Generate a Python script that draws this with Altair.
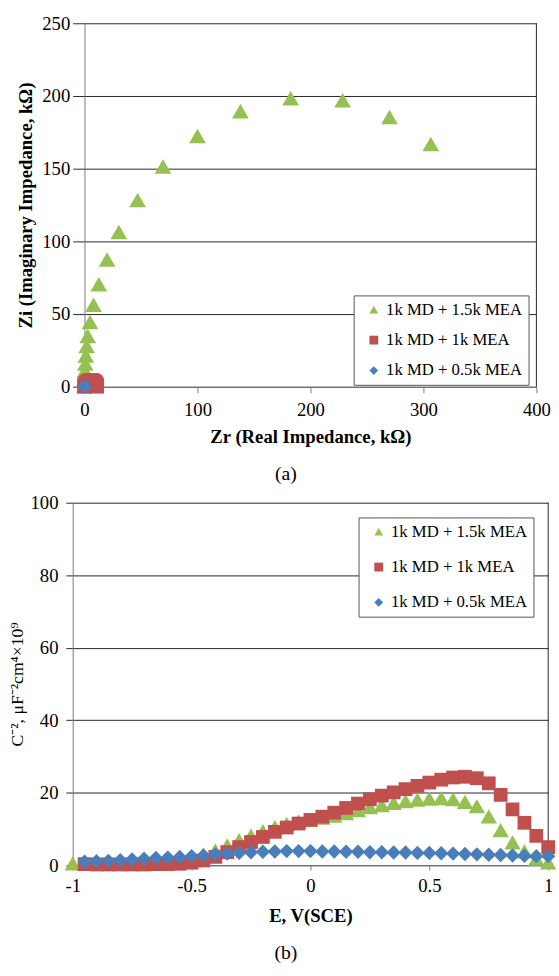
import altair as alt
import pandas as pd

FONT = "Liberation Serif"
S_HI, S_MID, S_LO = "1k MD + 1.5k MEA", "1k MD + 1k MEA", "1k MD + 0.5k MEA"
SERIES = [S_HI, S_MID, S_LO]
COLORS = ["#95C152", "#C0504D", "#4A7EBB"]
SHAPES = ["triangle-up", "square", "diamond"]

# ---------------- (a) Nyquist plot ----------------
a_hi_zr = [0.1, 0.2, 0.4, 0.7, 1.2, 1.9, 2.9, 4.9, 8.0, 12.7, 20.0, 30.4, 47.0, 69.5,
           100.0, 138.0, 182.5, 228.5, 270.0, 306.5]
a_hi_zi = [1.0, 5.5, 11.0, 16.0, 21.5, 28.0, 35.0, 44.5, 56.5, 70.5, 87.5, 106.5, 128.5,
           151.5, 172.5, 189.5, 198.5, 197.0, 185.5, 167.0]
a_mid_zr = [0.1, 0.3, 0.7, 1.3, 2.0, 3.0, 4.2, 5.4, 6.6, 7.8, 8.8, 9.6, 10.2, 10.6, 10.8]
a_mid_zi = [0.3, 0.8, 1.4, 2.0, 2.6, 3.3, 3.9, 4.2, 4.2, 3.9, 3.3, 2.6, 1.9, 1.1, 0.4]
a_lo_zr = [0.1, 0.2, 0.3]
a_lo_zi = [0.1, 0.3, 0.2]
a_x_ticks = [0, 100, 200, 300, 400]
a_y_ticks = [0, 50, 100, 150, 200, 250]

# ---------------- (b) Mott-Schottky plot ----------------
b_e_hi = [-1.0, -0.95, -0.9, -0.85, -0.8, -0.75, -0.7, -0.65, -0.6, -0.55, -0.5, -0.45,
          -0.4, -0.35, -0.3, -0.25, -0.2, -0.15, -0.1, -0.05, 0.0, 0.05, 0.1, 0.15, 0.2,
          0.25, 0.3, 0.35, 0.4, 0.45, 0.5, 0.55, 0.6, 0.65, 0.7, 0.75, 0.8, 0.85, 0.9,
          0.95, 1.0]
b_c_hi = [0.5, 0.6, 0.6, 0.7, 0.7, 0.8, 0.9, 1.0, 1.2, 1.5, 2.0, 2.9, 4.1, 5.5, 6.9,
          8.2, 9.4, 10.5, 11.4, 12.1, 12.6, 13.1, 13.7, 14.4, 15.2, 16.0, 16.6, 17.2,
          17.7, 18.1, 18.4, 18.5, 18.2, 17.5, 16.3, 13.5, 9.7, 6.3, 3.8, 1.8, 0.8]
b_e_mid = b_e_hi[1:]
b_c_mid = [0.3, 0.2, 0.2, 0.2, 0.2, 0.2, 0.3, 0.3, 0.4, 0.7, 1.3, 2.3, 3.6, 5.0, 6.4,
           7.8, 9.2, 10.4, 11.5, 12.5, 13.4, 14.5, 15.8, 17.0, 18.2, 19.2, 20.1, 21.0,
           21.9, 22.8, 23.6, 24.2, 24.4, 24.0, 22.6, 19.4, 15.4, 11.7, 8.1, 5.0]
b_e_lo = b_e_hi[1:]
b_c_lo = [1.0, 1.1, 1.2, 1.4, 1.6, 1.8, 2.0, 2.1, 2.3, 2.5, 2.7, 3.0, 3.2, 3.4, 3.6,
          3.7, 3.8, 3.9, 3.9, 3.9, 3.8, 3.8, 3.7, 3.7, 3.6, 3.6, 3.5, 3.5, 3.4, 3.4,
          3.3, 3.2, 3.1, 3.0, 2.9, 2.8, 2.7, 2.6, 2.5, 2.5]
b_x_ticks = [-1, -0.5, 0, 0.5, 1]
b_y_ticks = [0, 20, 40, 60, 80, 100]

GRID = "#262626"
AXISC = "#7a7a7a"


def frame(names, xs, ys, xcol, ycol):
    rows = []
    for n, xv, yv in zip(names, xs, ys):
        for a, b in zip(xv, yv):
            rows.append({"series": n, xcol: a, ycol: b})
    return pd.DataFrame(rows)


def make_legend(lx, ly, row_pad):
    return alt.Legend(title=None, orient="none", legendX=lx, legendY=ly,
                      labelFont=FONT, labelFontSize=17, labelColor="black",
                      symbolSize=80, symbolStrokeWidth=0, symbolOffset=6,
                      labelOffset=4, rowPadding=row_pad, padding=6,
                      strokeColor="#555555", fillColor="white")


def panel(df, xenc, yenc, legend, sizes, border_df, bx, by, by2, w, h, label, dx):
    color = alt.Color("series:N", scale=alt.Scale(domain=SERIES, range=COLORS), legend=legend)
    shape = alt.Shape("series:N", scale=alt.Scale(domain=SERIES, range=SHAPES), legend=legend)
    base = alt.Chart(df).encode(x=xenc, y=yenc, color=color, shape=shape)
    layers = [base.transform_filter(alt.datum.series == s)
              .mark_point(filled=True, opacity=1, size=sz, strokeWidth=0)
              for s, sz in zip(SERIES, sizes)]
    border = alt.Chart(border_df).mark_rule(color=GRID, strokeWidth=1).encode(
        x=f"{bx}:Q", y=f"{by}:Q", y2=f"{by2}:Q")
    return alt.layer(border, *layers).properties(
        width=w, height=h,
        title=alt.TitleParams(label, orient="bottom", font=FONT, fontSize=20,
                              fontWeight="normal", color="black", frame="group",
                              dx=dx, offset=18))


df_a = frame(SERIES, [a_hi_zr, a_mid_zr, a_lo_zr], [a_hi_zi, a_mid_zi, a_lo_zi], "zr", "zi")
top = panel(
    df_a,
    alt.X("zr:Q", scale=alt.Scale(domain=[-10.43, 400], nice=False, zero=False),
          axis=alt.Axis(values=a_x_ticks, title="Zr (Real Impedance, kΩ)", grid=False,
                        tickSize=6, labelPadding=8, titlePadding=9, titleX=242,
                        titleFontWeight="bold")),
    alt.Y("zi:Q", scale=alt.Scale(domain=[0, 250], nice=False),
          axis=alt.Axis(values=a_y_ticks, title="Zi (Imaginary Impedance, kΩ)", grid=True,
                        offset=-12, ticks=False, labelPadding=15, titlePadding=6,
                        titleFontWeight="bold")),
    make_legend(286, 277, 13), [290, 225, 225],
    pd.DataFrame({"zr": [400], "zi": [0], "zi2": [250]}), "zr", "zi", "zi2",
    472, 370, "(a)", -19)

df_b = frame(SERIES, [b_e_hi, b_e_mid, b_e_lo], [b_c_hi, b_c_mid, b_c_lo], "e", "c")
bottom = panel(
    df_b,
    alt.X("e:Q", scale=alt.Scale(domain=[-1, 1], nice=False),
          axis=alt.Axis(values=b_x_ticks, title="E, V(SCE)", grid=False,
                        labelExpr="'' + datum.value",
                        tickSize=5, labelPadding=7, titlePadding=11,
                        titleFontWeight="bold")),
    alt.Y("c:Q", scale=alt.Scale(domain=[0, 100], nice=False),
          axis=alt.Axis(values=b_y_ticks, title="C⁻², μF⁻²cm⁴×10⁹", grid=True,
                        tickSize=7, tickColor=GRID, labelPadding=8, titlePadding=4,
                        titleFontWeight="normal", titleFontSize=18)),
    make_legend(291, 15, 18), [280, 196, 215],
    pd.DataFrame({"e": [1], "c": [0], "c2": [100]}), "e", "c", "c2",
    484, 369, "(b)", -25)

chart = alt.vconcat(top, bottom, spacing=10).resolve_scale(
    color="independent", shape="independent"
).properties(
    padding={"left": 8, "top": 6, "right": 2, "bottom": 2}
).configure_view(stroke=None).configure_axis(
    labelFont=FONT, titleFont=FONT, labelFontSize=19, titleFontSize=19,
    labelColor="black", titleColor="black", gridColor=GRID, gridWidth=1,
    domainColor=AXISC, tickColor=AXISC, labelFlush=False
)

chart.save("out.html", embed_options={"renderer": "svg", "actions": False})
